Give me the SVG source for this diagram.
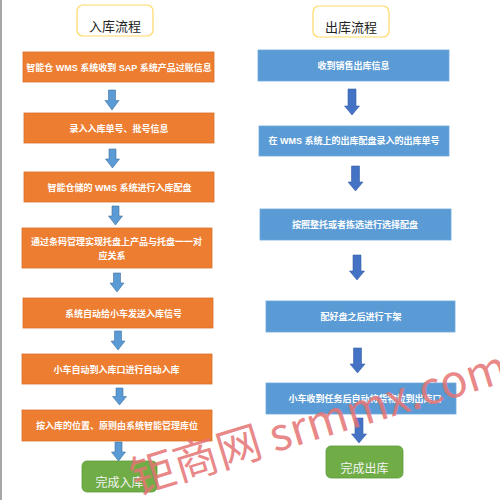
<svg xmlns="http://www.w3.org/2000/svg" width="500" height="500" viewBox="0 0 500 500">
<defs>
<style>
.bg{fill:#ffffff}
.title rect{fill:#ffffff;stroke:#FFD966;stroke-width:1.2}
.title text{font-family:"Noto Sans CJK SC","Noto Sans",sans-serif;font-size:13px;fill:#222222;text-anchor:middle;dominant-baseline:central}
.org rect{fill:#ED7D31;stroke:#D9702A;stroke-width:0.8}
.blu rect{fill:#5B9BD5;stroke:#6FA8DC;stroke-width:0.8}
.grn rect{fill:#70AD47;stroke:#5E9A3A;stroke-width:0.8}
.box text{font-family:"Liberation Sans","Noto Sans CJK SC",sans-serif;font-size:9px;font-weight:bold;fill:#ffffff;text-anchor:middle;dominant-baseline:central}
.grn text{font-family:"Noto Sans CJK SC",sans-serif;font-size:12px;font-weight:normal;fill:#f4f4f4;text-anchor:middle;dominant-baseline:central}
.la{fill:#5B9BD5;stroke:#41719C;stroke-width:0.6}
.ra{fill:#4472C4;stroke:#3A62A8;stroke-width:0.6}
.wm{font-family:"Noto Sans CJK SC","Liberation Sans",sans-serif;font-size:45px;fill:#E57373;fill-opacity:0.85}
</style>
</defs>
<rect class="bg" x="0" y="0" width="500" height="500"/>
<rect x="0" y="0" width="2" height="500" fill="#A6A6A6"/>

<g id="title-in" class="title"><rect x="77" y="5" width="76" height="31" rx="6"/><text x="115" y="25">入库流程</text></g>
<g id="title-out" class="title"><rect x="313" y="6" width="76" height="31" rx="6"/><text x="351" y="26.5">出库流程</text></g>

<g id="in1" class="box org"><rect x="23" y="52" width="191" height="30"/><text x="119" y="67.5">智能仓 WMS 系统收到 SAP 系统产品过账信息</text></g>
<g id="in2" class="box org"><rect x="24" y="113" width="190" height="30"/><text x="119" y="128.5">录入入库单号、批号信息</text></g>
<g id="in3" class="box org"><rect x="24" y="172" width="190" height="30"/><text x="119.5" y="187.5">智能仓储的 WMS 系统进行入库配盘</text></g>
<g id="in4" class="box org"><rect x="22" y="228" width="190" height="40"/><text x="116.5" y="242">通过条码管理实现托盘上产品与托盘一一对</text><text x="112" y="256">应关系</text></g>
<g id="in5" class="box org"><rect x="23" y="298" width="190" height="30"/><text x="123.5" y="313.5">系统自动给小车发送入库信号</text></g>
<g id="in6" class="box org"><rect x="22" y="354" width="190" height="30"/><text x="116.5" y="369.5">小车自动到入库口进行自动入库</text></g>
<g id="in7" class="box org"><rect x="22" y="410" width="190" height="31"/><text x="117" y="425.5">按入库的位置、原则由系统智能管理库位</text></g>
<g id="in-done" class="box grn"><rect x="82" y="461" width="75" height="31" rx="5"/><text x="119.5" y="481">完成入库</text></g>

<g id="out1" class="box blu"><rect x="258" y="50" width="191" height="31"/><text x="353.5" y="65.5">收到销售出库信息</text></g>
<g id="out2" class="box blu"><rect x="259" y="126" width="190" height="30"/><text x="354" y="141">在 WMS 系统上的出库配盘录入的出库单号</text></g>
<g id="out3" class="box blu"><rect x="260" y="209" width="191" height="31"/><text x="355" y="224.5">按照整托或者拣选进行选择配盘</text></g>
<g id="out4" class="box blu"><rect x="266" y="301" width="189" height="31"/><text x="361" y="316.5">配好盘之后进行下架</text></g>
<g id="out5" class="box blu"><rect x="266" y="383" width="190" height="31"/><text x="365" y="398.5">小车收到任务后自动将货物拉到出库口</text></g>
<g id="out-done" class="box grn"><rect x="326" y="446" width="77" height="32" rx="5"/><text x="364.5" y="467">完成出库</text></g>

<g id="connectors">
<path class="la" d="M108.5,90 h7 v10.5 h3.5 l-7,9.5 l-7,-9.5 h3.5 z"/>
<path class="la" d="M109,149 h7 v10 h3.5 l-7,9 l-7,-9 h3.5 z"/>
<path class="la" d="M112,206 h7 v10 h3.5 l-7,9 l-7,-9 h3.5 z"/>
<path class="la" d="M113.5,273 h7 v10 h3.5 l-7,9 l-7,-9 h3.5 z"/>
<path class="la" d="M114.5,331 h7 v10 h3.5 l-7,9 l-7,-9 h3.5 z"/>
<path class="la" d="M116,388 h7 v8.5 h3.5 l-7,8.5 l-7,-8.5 h3.5 z"/>
<path class="la" d="M115,442 h7 v10 h3.5 l-7,9 l-7,-9 h3.5 z"/>

<path class="ra" d="M348,89 h8 v17 h3.5 l-7.5,9 l-7.5,-9 h3.5 z"/>
<path class="ra" d="M351.5,166 h8 v16 h3.5 l-7.5,9 l-7.5,-9 h3.5 z"/>
<path class="ra" d="M353,255 h8 v16 h3.5 l-7.5,9 l-7.5,-9 h3.5 z"/>
<path class="ra" d="M353.5,348 h8 v16 h3.5 l-7.5,9 l-7.5,-9 h3.5 z"/>
<path class="ra" d="M355,418 h8 v16 h3.5 l-7.5,9 l-7.5,-9 h3.5 z"/>
</g>

<g id="watermark"><text class="wm" transform="translate(136,495) rotate(-17)">钜商网 srmmx.com</text></g>
</svg>
